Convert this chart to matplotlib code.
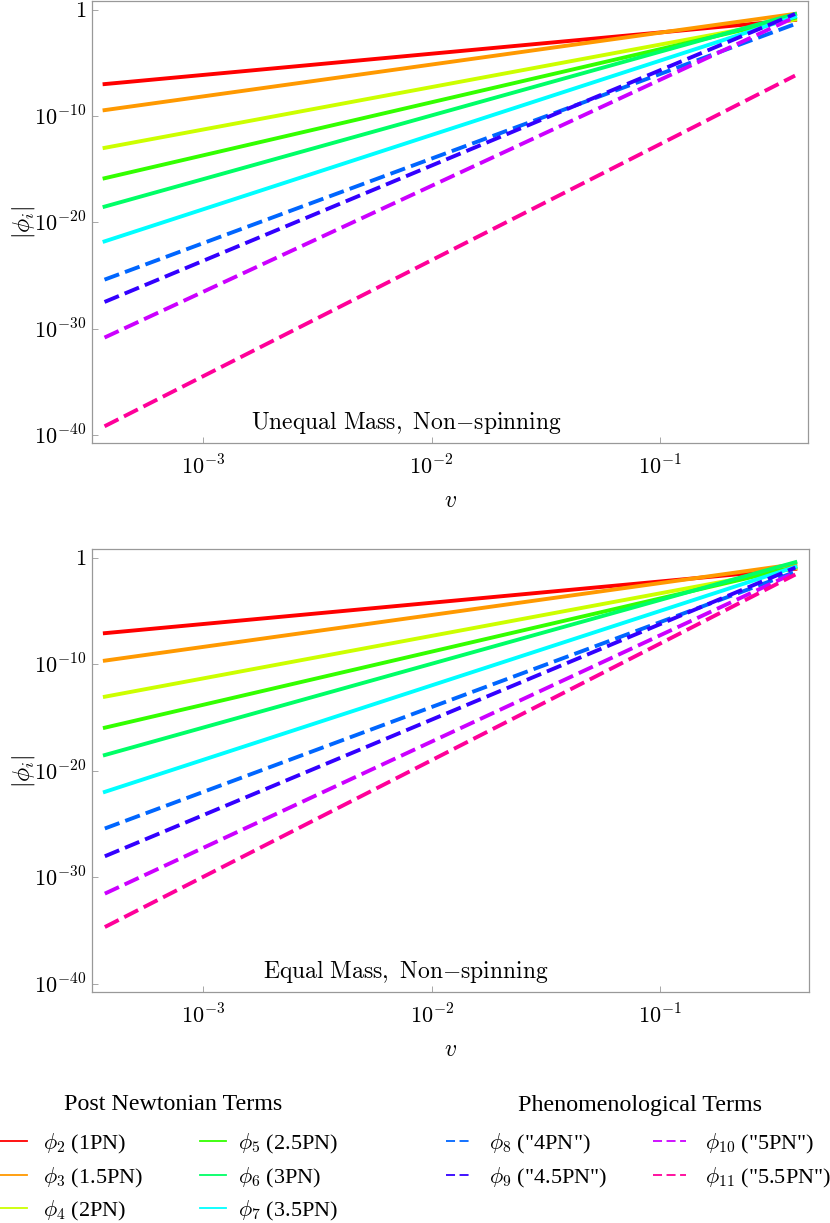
import numpy as np
import matplotlib
matplotlib.use("Agg")
import matplotlib.pyplot as plt
from matplotlib.lines import Line2D

plt.rcParams['mathtext.fontset'] = 'cm'
plt.rcParams['font.family'] = 'serif'
plt.rcParams['font.serif'] = ['Liberation Serif', 'DejaVu Serif']

# end points of each line (v from the first to the last sample)
v_ends = [3.7e-4, 0.39]

# log10 |phi_i| at the two ends
orders = [2, 3, 4, 5, 6, 7, 8, 9, 10, 11]
unequal_left = [-7.0, -9.45, -13.0, -15.86, -18.53, -21.8, -25.4, -27.5, -30.85, -39.2]
unequal_right = [-0.96, -0.39, -0.92, -0.76, -0.41, -0.66, -1.35, -0.4, -0.7, -6.2]
equal_left = [-7.06, -9.64, -13.03, -15.94, -18.51, -21.97, -25.41, -28.02, -31.53, -34.67]
equal_right = [-1.02, -0.58, -0.95, -0.84, -0.39, -0.83, -1.3, -0.9, -1.35, -1.55]

labels = [r"$\phi_{2}$ (1PN)", r"$\phi_{3}$ (1.5PN)", r"$\phi_{4}$ (2PN)",
          r"$\phi_{5}$ (2.5PN)", r"$\phi_{6}$ (3PN)", r"$\phi_{7}$ (3.5PN)",
          r'$\phi_{8}$ ("4PN")', r'$\phi_{9}$ ("4.5PN")',
          r'$\phi_{10}$ ("5PN")', r'$\phi_{11}$ ("5.5PN")']
colors = ['#ff0000', '#ff9900', '#ccff00', '#33ff00', '#00ff66',
          '#00ffff', '#0066ff', '#3300ff', '#cc00ff', '#ff0099']
dashed = [False]*6 + [True]*4

ytick_vals = [1, 1e-10, 1e-20, 1e-30, 1e-40]
ytick_labels = [r"$1$", r"$10^{-10}$", r"$10^{-20}$", r"$10^{-30}$", r"$10^{-40}$"]
xtick_vals = [1e-3, 1e-2, 1e-1]
xtick_labels = [r"$10^{-3}$", r"$10^{-2}$", r"$10^{-1}$"]

W, H = 830, 1223
fig = plt.figure(figsize=(W/100, H/100), dpi=100)

def make_panel(rect, left, right, title):
    ax = fig.add_axes(rect)
    for i in range(len(orders)):
        y = [10**left[i], 10**right[i]]
        if dashed[i]:
            ax.plot(v_ends, y, color=colors[i], lw=2.8, dashes=(4.0, 1.6))
        else:
            ax.plot(v_ends, y, color=colors[i], lw=2.8)
    ax.set_xscale('log')
    ax.set_yscale('log')
    ax.set_xlim(10**-3.488, 10**-0.351)
    ax.set_ylim(10**-40.8, 10**0.82)
    ax.set_yticks(ytick_vals)
    ax.set_yticklabels(ytick_labels)
    ax.set_xticks(xtick_vals)
    ax.set_xticklabels(xtick_labels)
    ax.minorticks_off()
    ax.tick_params(direction='in', length=4, width=0.6, color='#999999',
                   labelsize=16, pad=4)
    ax.tick_params(axis='x', pad=9)
    for s in ax.spines.values():
        s.set_color('#999999')
        s.set_linewidth(0.9)
    ax.set_xlabel(r"$v$", fontsize=17, labelpad=8)
    ax.set_ylabel(r"$|\phi_i|$", fontsize=17, labelpad=-2)
    ax.text(0.4386, 0.046, title, transform=ax.transAxes, fontsize=17,
            ha='center', va='center')
    return ax

ax1 = make_panel([91.7/W, 1-443.3/H, 716.6/W, 442.3/H], unequal_left, unequal_right,
                 r"$\mathrm{Unequal\ Mass,\ Non{-}spinning}$")
ax2 = make_panel([92/W, 1-992.3/H, 716.6/W, 443/H], equal_left, equal_right,
                 r"$\mathrm{Equal\ Mass,\ Non{-}spinning}$")

# legend drawn by hand, positions in pixels from top-left
fig.text(173/W, 1-1105/H, "Post Newtonian Terms", fontsize=17.3, ha='center', va='center')
fig.text(640/W, 1-1105/H, "Phenomenological Terms", fontsize=17.3, ha='center', va='center')

col_handle = [(0, 27), (200, 226), (446, 472), (653, 686)]
col_text = [43, 238, 489, 705]
row_y = [1141, 1175, 1208]
slots = [(0, 0), (0, 1), (0, 2), (1, 0), (1, 1), (1, 2),
         (2, 0), (2, 1), (3, 0), (3, 1)]

for i in range(len(orders)):
    c, r = slots[i]
    x0, x1 = col_handle[c]
    y = 1 - row_y[r]/H
    ln = Line2D([x0/W, x1/W], [y, y], color=colors[i], lw=1.3, transform=fig.transFigure)
    if dashed[i]:
        ln.set_dashes((5, 2.5))
    fig.add_artist(ln)
    fig.text(col_text[c]/W, 1-(row_y[r]+8)/H, labels[i], fontsize=16,
             ha='left', va='baseline')

fig.savefig("out.png", dpi=100)
